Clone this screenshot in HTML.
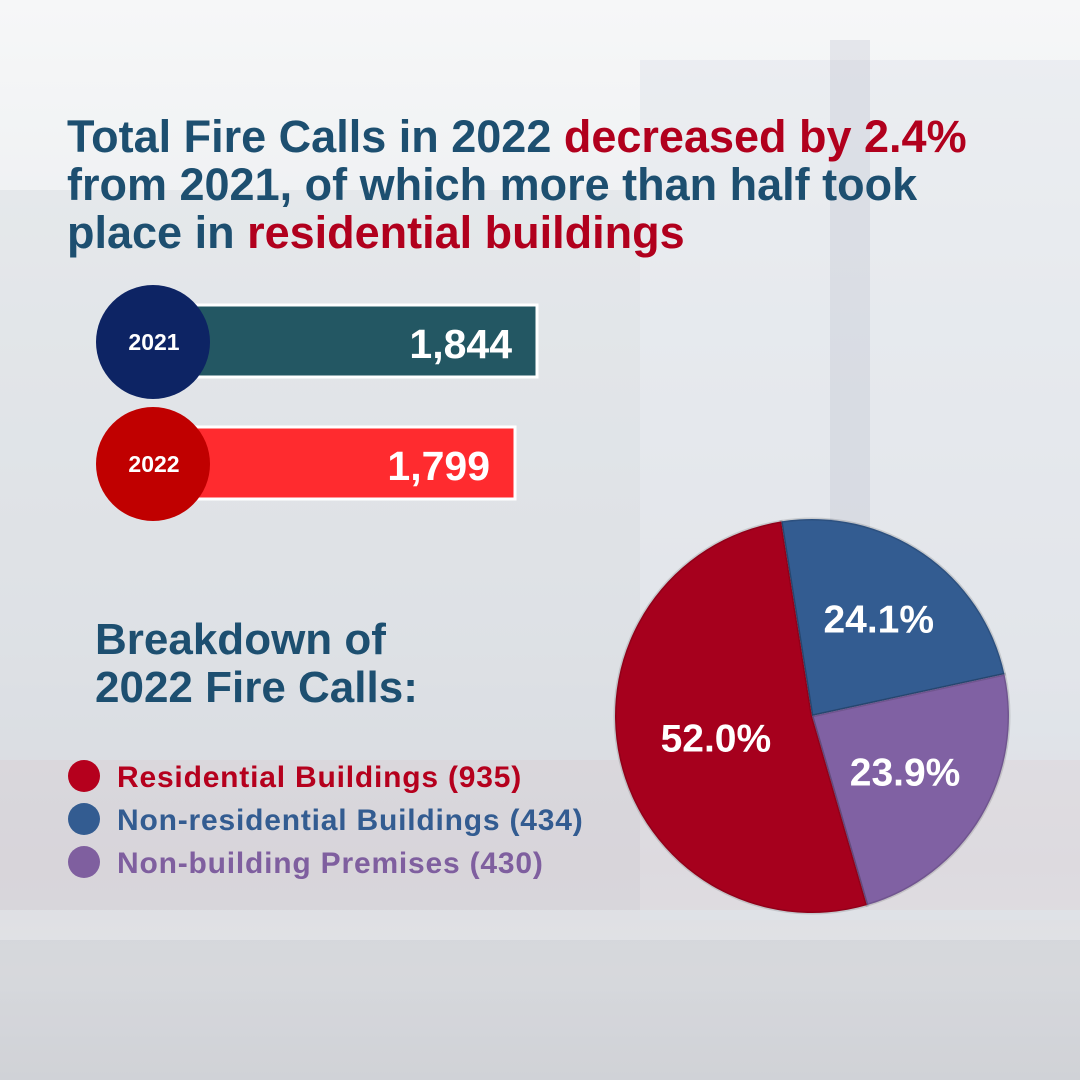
<!DOCTYPE html>
<html><head><meta charset="utf-8">
<style>
html,body{margin:0;padding:0}
body{width:1080px;height:1080px;position:relative;overflow:hidden;font-family:"Liberation Sans",sans-serif;
background:linear-gradient(180deg,#f6f7f8 0%,#eceef0 30%,#e4e6ea 60%,#dcdde2 80%,#e2e3e6 90%,#d9dade 100%);}
.bg{position:absolute;background:rgba(200,205,215,0.35)}
.t{position:absolute;font-weight:bold;white-space:nowrap}
</style></head><body>
<div class="bg" style="left:0;top:190px;width:640px;height:720px;background:rgba(210,214,222,0.35)"></div>
<div class="bg" style="left:640px;top:60px;width:440px;height:860px;background:rgba(225,228,234,0.45)"></div>
<div class="bg" style="left:830px;top:40px;width:40px;height:520px;background:rgba(180,185,200,0.25)"></div>
<div class="bg" style="left:0;top:760px;width:1080px;height:150px;background:rgba(220,170,170,0.1)"></div>
<div class="bg" style="left:0;top:940px;width:1080px;height:140px;background:rgba(190,192,198,0.3)"></div>

<div class="t" style="left:67px;top:113px;font-size:45px;line-height:48px;color:#1d4f70">
Total Fire Calls in 2022 <span style="color:#b1001d">decreased by 2.4%</span><br>from 2021, of which more than half took<br>place in <span style="color:#b1001d">residential buildings</span></div>

<svg id="bars" width="1080" height="1080" style="position:absolute;left:0;top:0"></svg>

<div class="t" style="left:95px;top:616px;font-size:44px;line-height:48px;color:#1d4f70">Breakdown of<br>2022 Fire Calls:</div>

<script>
const years=["2021","2022"];
const totals=[1844,1799];
const barColors=["#235763","#ff2b2f"];
const circColors=["#0d2464","#c00000"];
const cats=["Residential Buildings","Non-residential Buildings","Non-building Premises"];
const counts=[935,434,430];
const pcts=[52.0,24.1,23.9];
const pieColors=["#a6001d","#335c91","#8061a3"];
const legendColors=["#b5001d","#335c91","#7f5f9f"];

const NS="http://www.w3.org/2000/svg";
const svg=document.getElementById('bars');
function mk(t,a){const e=document.createElementNS(NS,t);for(const k in a)e.setAttribute(k,a[k]);svg.appendChild(e);return e;}
function bx(v){return 537-(1844-v)*22/45;}
const rowY=[305,427];
years.forEach((y,i)=>{
  const r=mk('rect',{x:150,y:rowY[i],width:bx(totals[i])-150,height:72,fill:barColors[i],stroke:'#fff','stroke-width':3});
  
  
  const c=mk('circle',{cx:153,cy:rowY[i]+37,r:57,fill:circColors[i]});
  
  
  const t1=mk('text',{x:154,y:rowY[i]+45,'text-anchor':'middle','font-size':23,'font-weight':'bold',fill:'#fff'});
  t1.textContent=y;
  
  
  const t2=mk('text',{x:bx(totals[i])-25,y:rowY[i]+53,'text-anchor':'end','font-size':41,'font-weight':'bold',fill:'#fff'});
  t2.textContent=totals[i].toLocaleString('en-US');
  
  
});
// pie
const cx=812,cy=716,R=197;
const order=[1,2,0];
const labelR={0:0.5,1:0.6,2:0.55};
let a=-9;
order.forEach(i=>{
  const sw=pcts[i]*3.6;
  const a0=a*Math.PI/180,a1=(a+sw)*Math.PI/180;
  const x0=cx+R*Math.sin(a0),y0=cy-R*Math.cos(a0),x1=cx+R*Math.sin(a1),y1=cy-R*Math.cos(a1);
  const p=mk('path',{d:`M${cx},${cy}L${x0},${y0}A${R},${R} 0 ${sw>180?1:0} 1 ${x1},${y1}Z`,fill:pieColors[i],stroke:'rgba(0,0,0,0.12)','stroke-width':3});
  
  
  const m=(a+sw/2)*Math.PI/180,lr=R*labelR[i];
  const t=mk('text',{x:cx+lr*Math.sin(m),y:cy-lr*Math.cos(m)+14,'text-anchor':'middle','font-size':39,'font-weight':'bold',fill:'#fff'});
  t.textContent=pcts[i].toFixed(1)+'%';
  
  
  a+=sw;
});
// legend
cats.forEach((c,i)=>{
  const y=776+i*43;
  const d=mk('circle',{cx:84,cy:y,r:16,fill:legendColors[i]});
  
  
  const t=mk('text',{x:117,y:y+11,'font-size':30,'font-weight':'bold','letter-spacing':0.8,fill:legendColors[i]});
  t.textContent=c+' ('+counts[i]+')';
  
  
});
</script>
</body></html>
